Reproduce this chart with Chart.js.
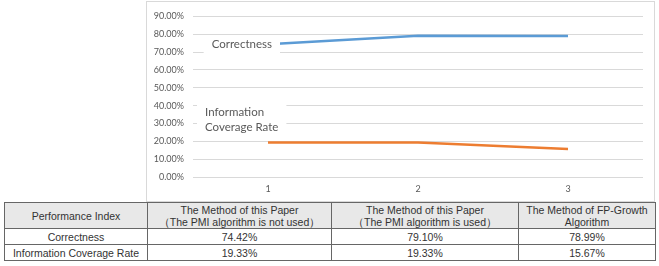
<!DOCTYPE html>
<html>
<head>
<meta charset="utf-8">
<script src="https://cdn.jsdelivr.net/npm/chart.js@4.4.0/dist/chart.umd.min.js"></script>
<style>
  html, body { margin: 0; padding: 0; background: #fff; width: 659px; height: 266px; overflow: hidden; }
  #chartBox { position: absolute; left: 146px; top: 1px; width: 509px; height: 201px; border: 1px solid #d9d9d9; box-sizing: border-box; }
  #chartBox canvas { display: block; }
  table { position: absolute; left: 4px; top: 202px; width: 651px; border-collapse: collapse; table-layout: fixed;
          font-family: "Liberation Sans", Arial, sans-serif; font-size: 10.5px; color: #333; }
  td, th { border: 1px solid #666; text-align: center; padding: 0; font-weight: normal; line-height: 12px; }
  th { background: #e8e8e8; height: 25px; }
  td { height: 15px; }
</style>
</head>
<body>
<div id="chartBox"><canvas id="chart" width="507" height="199"></canvas></div>
<table id="dataTable"></table>
<script>
// data
const categories = ['1', '2', '3'];
const methodNames = [
    ['The Method of this Paper', '\uFF08The PMI algorithm is not used\uFF09'],
    ['The Method of this Paper', '\uFF08The PMI algorithm is used\uFF09'],
    ['The Method of FP-Growth', 'Algorithm']
];
const correctness = [74.42, 79.10, 78.99];
const coverage = [19.33, 19.33, 15.67];
const yTicks = [0, 10, 20, 30, 40, 50, 60, 70, 80, 90];

const textColor = '#595959';
const chartFont = 'Lato, "Open Sans", sans-serif';

// labels drawn next to the first point of each line, on a white box
const lineLabels = {
    id: 'lineLabels',
    afterDatasetsDraw(chart) {
        const ctx = chart.ctx;
        ctx.save();
        ctx.font = '11.5px ' + chartFont;
        ctx.fillStyle = textColor;
        ctx.textBaseline = 'middle';
        chart.data.datasets.forEach((ds, i) => {
            const pt = chart.getDatasetMeta(i).data[0];
            const lines = ds.labelLines;
            const lx = pt.x + ds.labelDx;
            const ly = pt.y + ds.labelDy;
            const w = Math.max(...lines.map(l => ctx.measureText(l).width));
            const h = lines.length * 15;
            const left = ds.labelAlign === 'right' ? lx - w : lx;
            ctx.fillStyle = '#fff';
            ctx.fillRect(left - 8, ly - 9, w + 16, h + 4);
            ctx.fillStyle = textColor;
            ctx.textAlign = 'left';
            lines.forEach((l, k) => ctx.fillText(l, left, ly + k * 15));
        });
        ctx.restore();
    }
};

new Chart(document.getElementById('chart'), {
    type: 'line',
    data: {
        labels: categories,
        datasets: [
            {
                label: 'Correctness',
                data: correctness,
                borderColor: '#5b9bd5',
                borderWidth: 2.5,
                pointRadius: 0,
                tension: 0,
                labelLines: ['Correctness'],
                labelAlign: 'right',
                labelDx: 4,
                labelDy: 0
            },
            {
                label: 'Information Coverage Rate',
                data: coverage,
                borderColor: '#ed7d31',
                borderWidth: 2.5,
                pointRadius: 0,
                tension: 0,
                labelLines: ['Information', 'Coverage Rate'],
                labelAlign: 'left',
                labelDx: -63,
                labelDy: -30
            }
        ]
    },
    options: {
        responsive: false,
        animation: false,
        events: [],
        layout: { padding: { top: 11, right: 11, left: 0, bottom: 0 } },
        plugins: { legend: { display: false }, tooltip: { enabled: false } },
        scales: {
            x: {
                offset: true,
                grid: { display: false, drawTicks: false },
                border: { display: false },
                ticks: { color: textColor, font: { family: chartFont, size: 9 }, padding: 7 },
                afterFit(scale) { scale.height = 24; }
            },
            y: {
                min: 0,
                max: 90,
                afterBuildTicks(scale) { scale.ticks = yTicks.map(v => ({ value: v })); },
                grid: { color: '#d9d9d9', drawTicks: false },
                border: { display: false },
                ticks: {
                    color: textColor,
                    font: { family: chartFont, size: 9 },
                    padding: 9,
                    callback: v => v.toFixed(2) + '%'
                },
                afterFit(scale) { scale.width = 46; }
            }
        }
    },
    plugins: [lineLabels]
});

// table below the chart
const table = document.getElementById('dataTable');
let html = '<colgroup><col style="width:143px"><col style="width:184px"><col style="width:187px"><col style="width:137px"></colgroup>';
html += '<tr><th>Performance Index</th>' + methodNames.map(n => '<th>' + n.join('<br>') + '</th>').join('') + '</tr>';
html += '<tr><td>Correctness</td>' + correctness.map(v => '<td>' + v.toFixed(2) + '%</td>').join('') + '</tr>';
html += '<tr><td>Information Coverage Rate</td>' + coverage.map(v => '<td>' + v.toFixed(2) + '%</td>').join('') + '</tr>';
table.innerHTML = html;
</script>
</body>
</html>
